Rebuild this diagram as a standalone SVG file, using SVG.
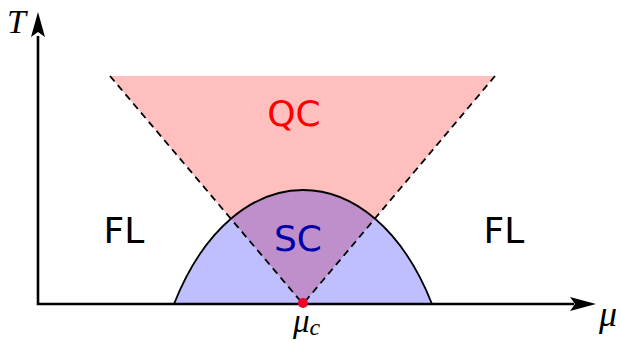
<svg xmlns="http://www.w3.org/2000/svg" width="621" height="343" viewBox="0 0 621 343">
<style>
.lbl{font-family:"DejaVu Sans",sans-serif;font-size:36px;text-anchor:middle}
.math{font-family:"Liberation Serif",serif;font-style:italic}
.dash{fill:none;stroke:#000;stroke-width:1.8;stroke-dasharray:7,5}
.axis{fill:none;stroke:#000;stroke-width:2.6}
</style>
<defs>
<clipPath id="tri"><polygon points="110,76 495,76 303,304"/></clipPath>
<path id="domePath" d="M174,304 C234,152 372,152 432,304 Z"/>
</defs>
<g id="qc-region">
<polygon points="110,76 495,76 303,304" fill="#ffbfbf"/>
</g>
<g id="sc-dome">
<use href="#domePath" fill="#bfbfff"/>
<use href="#domePath" fill="#bf8fcc" clip-path="url(#tri)"/>
<path d="M174,304 C234,152 372,152 432,304" fill="none" stroke="#000" stroke-width="1.8"/>
</g>
<g id="connectors">
<line class="dash" x1="110" y1="76" x2="303" y2="304"/>
<line class="dash" x1="495" y1="76" x2="303" y2="304"/>
<polyline class="axis" points="38,36 38,304 574,304"/>
<path d="M38,12 L45,37 L38,32 L31,37 Z" fill="#000"/>
<path d="M596,304 L570,297 L575,304 L570,311 Z" fill="#000"/>
</g>
<g id="qcp">
<circle cx="303" cy="303" r="5" fill="#f0002a"/>
</g>
<g id="labels">
<text class="lbl" x="294" y="126" fill="#ff0000">QC</text>
<text class="lbl" x="298" y="251" fill="#0000aa">SC</text>
<text class="lbl" x="124" y="243" fill="#000">FL</text>
<text class="lbl" x="504" y="243" fill="#000">FL</text>
<text class="math" x="7" y="33" font-size="34">T</text>
<text class="math" x="599" y="326" font-size="36">μ</text>
<text class="math" x="293" y="332" font-size="33">μ<tspan font-size="24" dy="3">c</tspan></text>
</g>
</svg>
